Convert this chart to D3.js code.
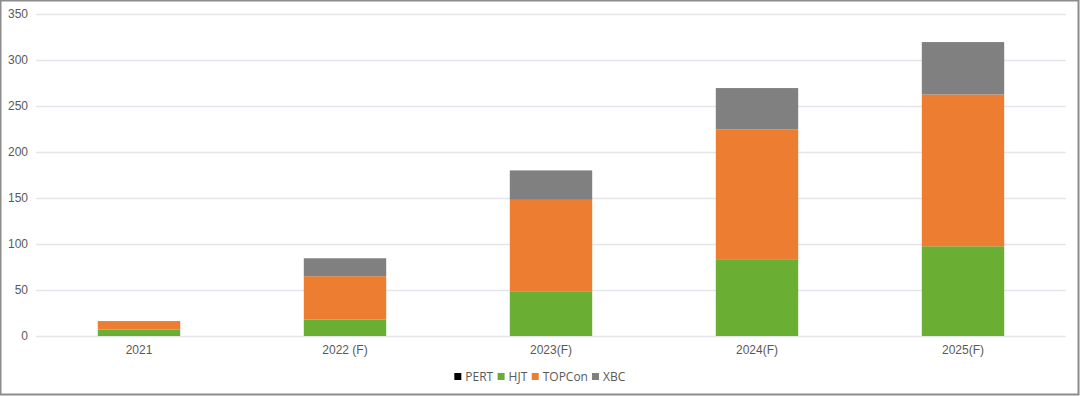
<!DOCTYPE html>
<html>
<head>
<meta charset="utf-8">
<script src="https://cdn.jsdelivr.net/npm/d3@7"></script>
<style>
  body { margin: 0; background: #fff; }
  svg { display: block; font-family: "Open Sans", "Noto Sans", sans-serif; }
</style>
</head>
<body>
<div id="chart"></div>
<script>
// categories and stacked series
const years = ['2021', '2022 (F)', '2023(F)', '2024(F)', '2025(F)'];
const seriesNames = ['PERT', 'HJT', 'TOPCon', 'XBC'];
const pert = [0, 0, 0, 0, 0];
const hjt = [7, 18, 48, 83.5, 97.5];
const topcon = [8.5, 47, 100, 141, 165];
const xbc = [0.8, 19.5, 32, 45, 57];
const yTicks = [0, 50, 100, 150, 200, 250, 300, 350];

const colors = { PERT: '#000000', HJT: '#6aaf33', TOPCon: '#ed7d31', XBC: '#808080' };

const rows = years.map((year, i) => ({
  year, PERT: pert[i], HJT: hjt[i], TOPCon: topcon[i], XBC: xbc[i]
}));

const W = 1080, H = 396;
const margin = { top: 14, right: 14, bottom: 60, left: 36 };
const width = W - margin.left - margin.right;
const height = H - margin.top - margin.bottom;

const svg = d3.select('#chart').append('svg')
  .attr('width', W)
  .attr('height', H);

// outer frame
svg.append('rect')
  .attr('x', 0.5).attr('y', 0.5)
  .attr('width', W - 2).attr('height', H - 2)
  .attr('fill', '#fff')
  .attr('stroke', '#8c8c8c')
  .attr('stroke-width', 2);

const g = svg.append('g')
  .attr('transform', `translate(${margin.left},${margin.top})`);

const x = d3.scaleBand()
  .domain(years)
  .range([0, width])
  .paddingInner(0.6)
  .paddingOuter(0.3);

const y = d3.scaleLinear()
  .domain([0, 350])
  .range([height, 0]);

// gridlines
g.append('g')
  .selectAll('line')
  .data(yTicks)
  .enter()
  .append('line')
  .attr('x1', 0)
  .attr('x2', width)
  .attr('y1', d => Math.round(y(d)) + 0.5)
  .attr('y2', d => Math.round(y(d)) + 0.5)
  .attr('stroke', '#e3e7ec')
  .attr('stroke-width', 1.3);

// y axis labels
const yAxis = g.append('g')
  .call(d3.axisLeft(y).tickValues(yTicks).tickSize(0).tickPadding(8));
yAxis.select('.domain').remove();
yAxis.selectAll('text')
  .attr('fill', '#595959')
  .style('font-size', '12px');

// x axis labels
const xAxis = g.append('g')
  .attr('transform', `translate(0,${height})`)
  .call(d3.axisBottom(x).tickSize(0).tickPadding(9));
xAxis.select('.domain').remove();
xAxis.selectAll('text')
  .attr('fill', '#595959')
  .style('font-size', '12px');

// stacked bars
const stack = d3.stack().keys(seriesNames);
const layers = stack(rows);

g.selectAll('.layer')
  .data(layers)
  .enter()
  .append('g')
  .attr('class', 'layer')
  .attr('fill', d => colors[d.key])
  .selectAll('rect')
  .data(d => d)
  .enter()
  .append('rect')
  .attr('x', d => x(d.data.year))
  .attr('y', d => y(d[1]))
  .attr('width', x.bandwidth())
  .attr('height', d => y(d[0]) - y(d[1]));

// legend
const legend = svg.append('g')
  .attr('transform', `translate(0, 377)`)
  .style('font-size', '12px');

const items = legend.selectAll('g')
  .data(seriesNames)
  .enter()
  .append('g');

items.append('rect')
  .attr('width', 7)
  .attr('height', 7)
  .attr('y', -4)
  .attr('fill', d => colors[d]);

items.append('text')
  .attr('x', 11)
  .attr('dy', '0.35em')
  .attr('fill', '#595959')
  .text(d => d);

// position legend items side by side, centered on the page
let offset = 0;
const widths = [];
items.each(function () {
  widths.push(this.getBBox().width);
});
const gap = 4;
const total = d3.sum(widths) + gap * (widths.length - 1);
const startX = W / 2 - total / 2;
items.attr('transform', (d, i) => {
  const tx = startX + offset;
  offset += widths[i] + gap;
  return `translate(${tx},0)`;
});
</script>
</body>
</html>
